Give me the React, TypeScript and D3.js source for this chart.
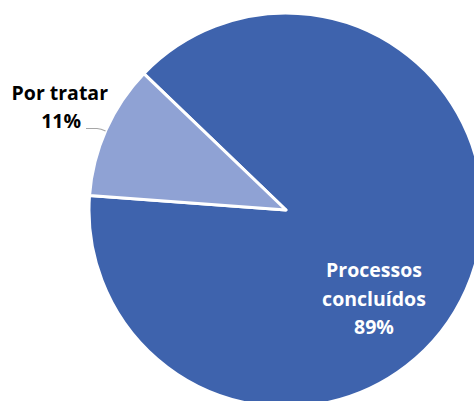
import React from "react";
import * as d3 from "d3";

const categories = ["Processos concluídos", "Por tratar"];
const values = [89, 11];
const percentLabels = ["89%", "11%"];
const colors = ["#3E63AD", "#8FA2D4"];

const W = 474;
const H = 401;
const cx = 286;
const cy = 210;
const R = 197;

export default function App() {
  const total = d3.sum(values);
  const startDeg = 313.8;
  const pie = d3
    .pie<number>()
    .sort(null)
    .value((d) => d)
    .startAngle((startDeg * Math.PI) / 180)
    .endAngle(((startDeg + 360) * Math.PI) / 180);
  const arcs = pie(values);
  const arcGen = d3.arc<d3.PieArcDatum<number>>().innerRadius(0).outerRadius(R);
  const font = "'Open Sans', Lato, sans-serif";
  const fs = 19.5;

  const small = arcs[1];
  const midA = (small.startAngle + small.endAngle) / 2;
  const edgeX = cx + Math.sin(midA) * R;

  return (
    <svg
      width={W}
      height={H}
      style={{ position: "absolute", left: 0, top: 0, display: "block" }}
    >
      <rect width={W} height={H} fill="#ffffff" />
      <g transform={`translate(${cx},${cy})`}>
        {arcs.map((a, i) => (
          <path
            key={categories[i]}
            d={arcGen(a) || ""}
            fill={colors[i]}
            stroke="#ffffff"
            strokeWidth={3}
            strokeLinejoin="round"
          />
        ))}
      </g>
      <path
        d={`M86,128.5 L97,128.5 Q101,128.8 ${edgeX - 0.5},131`}
        fill="none"
        stroke="#A6A6A6"
        strokeWidth={1.2}
      />
      <text
        x={108}
        y={100}
        textAnchor="end"
        fontFamily={font}
        fontWeight={700}
        fontSize={fs}
        fill="#000000"
      >
        {categories[1]}
      </text>
      <text
        x={81}
        y={128}
        textAnchor="end"
        fontFamily={font}
        fontWeight={700}
        fontSize={fs}
        fill="#000000"
      >
        {percentLabels[1]}
      </text>
      <text
        x={374}
        textAnchor="middle"
        fontFamily={font}
        fontWeight={700}
        fontSize={fs}
        fill="#ffffff"
      >
        <tspan x={374} y={277}>Processos</tspan>
        <tspan x={374} y={306}>concluídos</tspan>
        <tspan x={374} y={334}>{percentLabels[0]}</tspan>
      </text>
      <title>{`Total ${total}`}</title>
    </svg>
  );
}
